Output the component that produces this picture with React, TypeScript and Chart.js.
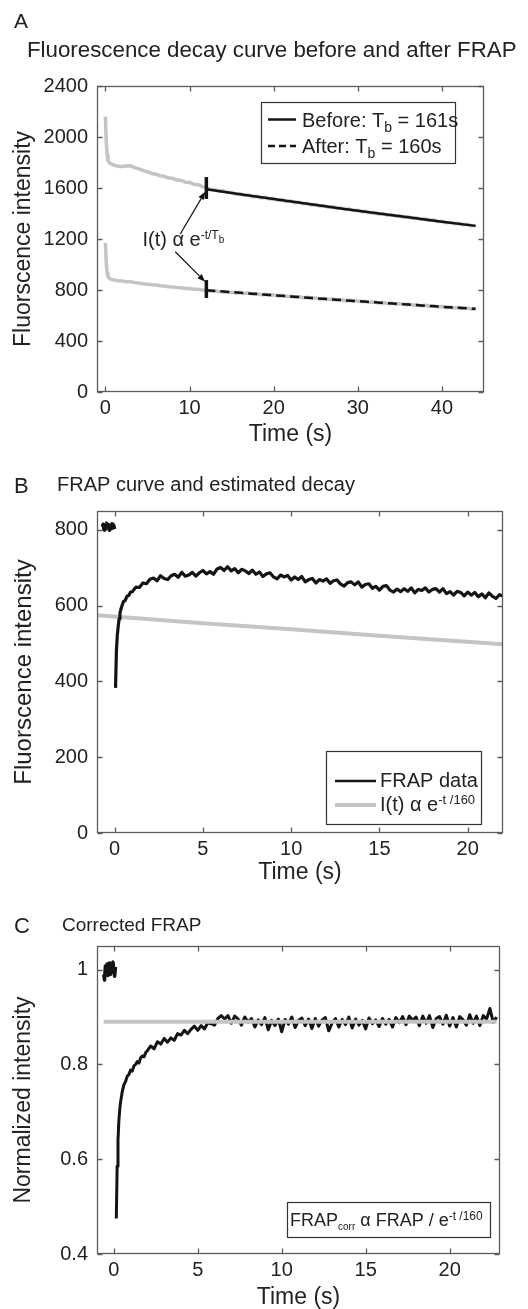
import React, { useEffect, useRef } from "react";
import { Chart, registerables } from "chart.js";
Chart.register(...registerables);

const FONT = '"Liberation Sans", Arial, Helvetica, sans-serif';
const TEXT = "#222222";
const FRAME = "#5c5c5c";
const GRAY = "#c4c4c4";
const BLACK = "#141414";

// ---------------- Panel A data ----------------
const A_X_TICKS = [0, 10, 20, 30, 40];
const A_X_LABELS = ["0", "10", "20", "30", "40"];
const A_Y_TICKS = [0, 400, 800, 1200, 1600, 2000, 2400];
const A_Y_LABELS = ["0", "400", "800", "1200", "1600", "2000", "2400"];
const A_HEAD_T = [0, 0.1, 0.2, 0.3, 0.5, 0.8];
const A_BEFORE_HEAD = [2160, 1960, 1860, 1815, 1795, 1786];
const A_AFTER_HEAD = [1170, 1010, 935, 905, 890, 882];
const A_TAIL_T0 = 1.0;
const A_TAIL_DT = 0.5;
const A_BEFORE_TAIL = [
  1780, 1770, 1768, 1773, 1774, 1760, 1750, 1736, 1728, 1714,
  1708, 1696, 1692, 1678, 1676, 1662, 1660, 1646, 1644, 1630,
  1626, 1612, 1602, 1588, 1588, 1576, 1578, 1566, 1565, 1552,
  1555, 1542, 1546, 1531, 1536, 1522, 1528, 1513, 1517, 1504,
  1508, 1494, 1499, 1485, 1490, 1476, 1480, 1466, 1471, 1458,
  1462, 1449, 1453, 1440, 1444, 1431, 1435, 1423, 1426, 1414,
  1417, 1405, 1408, 1396, 1400, 1387, 1391, 1379, 1382, 1370,
  1374, 1362, 1366, 1353, 1357, 1345, 1349, 1337, 1340, 1328,
  1332, 1320, 1324, 1312, 1316, 1304, 1305,
];
const A_AFTER_TAIL = [
  878, 873, 871, 865, 864, 858, 854, 849, 846, 841,
  839, 833, 831, 826, 824, 819, 818, 812, 811, 806,
  805, 800, 799, 793, 793, 787, 787, 781, 782, 776,
  781, 773, 777, 768, 771, 763, 767, 758, 762, 754,
  757, 749, 752, 744, 747, 739, 743, 735, 738, 730,
  733, 726, 729, 721, 724, 716, 720, 712, 715, 707,
  711, 703, 706, 698, 702, 694, 697, 689, 693, 685,
  689, 681, 684, 676, 680, 672, 676, 668, 671, 663,
  667, 659, 663, 655, 659, 651, 653,
];
const A_FIT_T = [12, 16, 20, 24, 28, 32, 36, 40, 44];
const A_FIT_BEFORE = [1590, 1551, 1513, 1476, 1440, 1404, 1370, 1336, 1303];
const A_FIT_AFTER = [798, 778, 759, 740, 721, 703, 686, 668, 652];
const A_MARK_T = 12;
const A_BAR_BEFORE = [1514, 1686];
const A_BAR_AFTER = [737, 878];

// ---------------- Panel B data ----------------
const B_X_TICKS = [0, 5, 10, 15, 20];
const B_X_LABELS = ["0", "5", "10", "15", "20"];
const B_Y_TICKS = [0, 200, 400, 600, 800];
const B_Y_LABELS = ["0", "200", "400", "600", "800"];
const B_PRE_T = [-0.7, -0.65, -0.6, -0.55, -0.5, -0.45, -0.4, -0.35, -0.3, -0.25, -0.2, -0.15, -0.1, -0.05, 0];
const B_PRE_V = [808, 815, 800, 812, 804, 818, 806, 814, 799, 811, 803, 816, 805, 812, 802];
const B_RISE_T = [0.05, 0.1, 0.15, 0.2, 0.25, 0.3, 0.35, 0.4, 0.5, 0.6, 0.7, 0.8, 0.9, 1.0, 1.2, 1.4, 1.6, 1.8, 2.0];
const B_RISE_V = [383, 480, 522, 545, 565, 580, 590, 598, 611, 614, 625, 627, 636, 637, 649, 648, 660, 658, 670];
const B_TAIL_T0 = 2.2;
const B_TAIL_DT = 0.2;
const B_TAIL_V = [
  673, 666, 679, 672, 669, 679, 683, 675, 688, 678,
  681, 688, 678, 687, 693, 684, 690, 683, 697, 701,
  693, 703, 692, 698, 687, 696, 692, 685, 694, 683,
  689, 677, 684, 687, 676, 671, 681, 676, 680, 668,
  676, 669, 677, 663, 669, 672, 660, 669, 665, 671,
  659, 666, 668, 657, 652, 661, 663, 655, 663, 649,
  656, 658, 646, 651, 641, 651, 653, 641, 636, 644,
  637, 645, 638, 647, 634, 643, 640, 647, 636, 643,
  645, 636, 645, 632, 637, 628, 638, 635, 626, 636,
  628, 635, 624, 631, 621, 634, 625, 619, 629, 626,
];
const B_DECAY_T = [-1, 5, 10, 15, 22];
const B_DECAY_V = [575, 554, 538, 521, 498];

// ---------------- Panel C data ----------------
const C_X_TICKS = [0, 5, 10, 15, 20];
const C_X_LABELS = ["0", "5", "10", "15", "20"];
const C_Y_TICKS = [0.4, 0.6, 0.8, 1];
const C_Y_LABELS = ["0.4", "0.6", "0.8", "1"];
const C_PRE_T = [-0.6, -0.55, -0.5, -0.45, -0.4, -0.35, -0.3, -0.25, -0.2, -0.15, -0.1, -0.05, 0, 0.05, 0.1];
const C_PRE_V = [0.99, 0.978, 1.008, 0.992, 1.012, 0.988, 1.004, 1.014, 0.99, 1.01, 0.995, 1.016, 1.0, 0.986, 1.006];
const C_RISE_T = [0.15, 0.2, 0.25, 0.3, 0.35, 0.4, 0.5, 0.6, 0.7, 0.8, 0.9, 1.0, 1.1, 1.2, 1.3, 1.4, 1.5, 1.6, 1.7, 1.8, 1.9, 2.0];
const C_RISE_V = [0.475, 0.585, 0.64, 0.68, 0.703, 0.72, 0.742, 0.757, 0.764, 0.775, 0.779, 0.788, 0.786, 0.797, 0.8, 0.806, 0.803, 0.814, 0.818, 0.816, 0.825, 0.829];
const C_TAIL_T0 = 2.2;
const C_TAIL_DT = 0.2;
const C_TAIL_V = [
  0.839, 0.833, 0.848, 0.843, 0.855, 0.847, 0.856, 0.851, 0.865, 0.862,
  0.872, 0.865, 0.874, 0.881, 0.872, 0.882, 0.875, 0.888, 0.886, 0.883,
  0.897, 0.903, 0.896, 0.903, 0.887, 0.902, 0.896, 0.883, 0.9, 0.889,
  0.897, 0.879, 0.894, 0.884, 0.899, 0.873, 0.893, 0.882, 0.896, 0.869,
  0.895, 0.885, 0.9, 0.878, 0.893, 0.898, 0.882, 0.896, 0.876, 0.897,
  0.881, 0.894, 0.899, 0.871, 0.887, 0.897, 0.879, 0.895, 0.884, 0.9,
  0.877, 0.896, 0.883, 0.893, 0.875, 0.898, 0.886, 0.894, 0.88, 0.897,
  0.885, 0.895, 0.879, 0.899, 0.888, 0.901, 0.884, 0.902, 0.893, 0.9,
  0.882, 0.902, 0.887, 0.903, 0.878, 0.897, 0.901, 0.885, 0.904, 0.881,
  0.899, 0.879, 0.901, 0.894, 0.883, 0.905, 0.887, 0.902, 0.882, 0.903,
  0.896, 0.918, 0.889, 0.9,
];
const C_LEVEL_T = [-0.6, 22.8];
const C_LEVEL_V = [0.89, 0.89];

// ---------------- helpers ----------------
const pts = (ts: number[], vs: number[]) => ts.map((t, i) => ({ x: t, y: vs[i] }));
const reg = (t0: number, dt: number, vs: number[]) =>
  vs.map((v, i) => ({ x: Math.round((t0 + i * dt) * 1000) / 1000, y: v }));

type Seg = { t: string; s: number; dy?: number };
function rich(ctx: CanvasRenderingContext2D, x: number, y: number, segs: Seg[]) {
  let cx = x;
  ctx.textAlign = "left";
  ctx.textBaseline = "alphabetic";
  ctx.fillStyle = TEXT;
  for (const g of segs) {
    ctx.font = `${g.s}px ${FONT}`;
    ctx.fillText(g.t, cx, y + (g.dy || 0));
    cx += ctx.measureText(g.t).width;
  }
}
function hline(ctx: CanvasRenderingContext2D, x1: number, x2: number, y: number, color: string, w: number, dash: number[] = []) {
  ctx.save();
  ctx.strokeStyle = color;
  ctx.lineWidth = w;
  ctx.setLineDash(dash);
  ctx.beginPath();
  ctx.moveTo(x1, y);
  ctx.lineTo(x2, y);
  ctx.stroke();
  ctx.restore();
}
function box(ctx: CanvasRenderingContext2D, x: number, y: number, w: number, h: number) {
  ctx.save();
  ctx.fillStyle = "#ffffff";
  ctx.fillRect(x, y, w, h);
  ctx.strokeStyle = "#333333";
  ctx.lineWidth = 1.2;
  ctx.strokeRect(x + 0.5, y + 0.5, w, h);
  ctx.restore();
}
function frame(chart: any, xt: number[], yt: number[]) {
  const { ctx, chartArea: a, scales } = chart;
  const L = Math.round(a.left) + 0.5, R = Math.round(a.right) - 0.5;
  const T = Math.round(a.top) + 0.5, B = Math.round(a.bottom) - 0.5;
  ctx.save();
  ctx.strokeStyle = FRAME;
  ctx.lineWidth = 1.3;
  ctx.strokeRect(L, T, R - L, B - T);
  ctx.beginPath();
  const tl = 5;
  for (const v of xt) {
    const p = Math.round(scales.x.getPixelForValue(v)) + 0.5;
    ctx.moveTo(p, B); ctx.lineTo(p, B - tl);
    ctx.moveTo(p, T); ctx.lineTo(p, T + tl);
  }
  for (const v of yt) {
    const p = Math.round(scales.y.getPixelForValue(v)) + 0.5;
    ctx.moveTo(L, p); ctx.lineTo(L + tl, p);
    ctx.moveTo(R, p); ctx.lineTo(R - tl, p);
  }
  ctx.stroke();
  ctx.restore();
}
function arrow(chart: any, from: number[], to: number[]) {
  const { ctx, scales } = chart;
  const x1 = scales.x.getPixelForValue(from[0]), y1 = scales.y.getPixelForValue(from[1]);
  const x2 = scales.x.getPixelForValue(to[0]), y2 = scales.y.getPixelForValue(to[1]);
  const ang = Math.atan2(y2 - y1, x2 - x1);
  const hl = 8, hw = 3;
  ctx.save();
  ctx.strokeStyle = "#111";
  ctx.fillStyle = "#111";
  ctx.lineWidth = 1.2;
  ctx.beginPath();
  ctx.moveTo(x1, y1);
  ctx.lineTo(x2 - hl * Math.cos(ang), y2 - hl * Math.sin(ang));
  ctx.stroke();
  ctx.beginPath();
  ctx.moveTo(x2, y2);
  ctx.lineTo(x2 - hl * Math.cos(ang) + hw * Math.sin(ang), y2 - hl * Math.sin(ang) - hw * Math.cos(ang));
  ctx.lineTo(x2 - hl * Math.cos(ang) - hw * Math.sin(ang), y2 - hl * Math.sin(ang) + hw * Math.cos(ang));
  ctx.closePath();
  ctx.fill();
  ctx.restore();
}

function xScale(min: number, max: number, ticks: number[], labels: string[], h: number) {
  return {
    type: "linear",
    min,
    max,
    afterBuildTicks: (s: any) => { s.ticks = ticks.map((v) => ({ value: v })); },
    afterFit: (s: any) => { s.height = h; },
    grid: { display: false, drawTicks: false },
    border: { display: false },
    ticks: {
      font: { family: FONT, size: 20 },
      color: TEXT,
      padding: 4,
      maxRotation: 0,
      autoSkip: false,
      callback: (v: any) => labels[ticks.indexOf(v)] ?? "",
    },
    title: { display: true, text: "Time (s)", color: TEXT, font: { family: FONT, size: 23, lineHeight: 1 }, padding: { top: 0, bottom: 0 } },
  };
}
function yScale(min: number, max: number, ticks: number[], labels: string[], title: string, tsize: number) {
  return {
    type: "linear",
    min,
    max,
    afterBuildTicks: (s: any) => { s.ticks = ticks.map((v) => ({ value: v })); },
    afterFit: (s: any) => { s.width = 97; },
    grid: { display: false, drawTicks: false },
    border: { display: false },
    ticks: {
      font: { family: FONT, size: 20 },
      color: TEXT,
      padding: 9,
      autoSkip: false,
      callback: (v: any) => labels[ticks.indexOf(v)] ?? "",
    },
    title: { display: true, text: title, color: TEXT, font: { family: FONT, size: tsize, lineHeight: 1 }, padding: { top: 24 - tsize / 2, bottom: 0 } },
  };
}
const line = (data: any[], color: string, w: number, dash: number[] = []) => ({
  data,
  borderColor: color,
  borderWidth: w,
  borderDash: dash,
  pointRadius: 0,
  fill: false,
  tension: 0,
  borderJoinStyle: "round",
});
const baseOptions = (padding: any, x: any, y: any) => ({
  responsive: false,
  animation: false,
  devicePixelRatio: 1,
  events: [],
  layout: { padding },
  plugins: { legend: { display: false }, tooltip: { enabled: false }, title: { display: false } },
  scales: { x, y },
});

// ---------------- configs ----------------
function configA(): any {
  const before = [...pts(A_HEAD_T, A_BEFORE_HEAD), ...reg(A_TAIL_T0, A_TAIL_DT, A_BEFORE_TAIL)];
  const after = [...pts(A_HEAD_T, A_AFTER_HEAD), ...reg(A_TAIL_T0, A_TAIL_DT, A_AFTER_TAIL)];
  return {
    type: "line",
    data: {
      datasets: [
        line(pts(A_FIT_T, A_FIT_BEFORE), BLACK, 2.5),
        line(pts(A_FIT_T, A_FIT_AFTER), BLACK, 2.5, [9, 5]),
        line(pts([A_MARK_T, A_MARK_T], A_BAR_BEFORE), BLACK, 3.5),
        line(pts([A_MARK_T, A_MARK_T], A_BAR_AFTER), BLACK, 3.5),
        line(before, GRAY, 3.5),
        line(after, GRAY, 3.5),
      ],
    },
    options: baseOptions(
      { left: 0, right: 44, top: 86, bottom: 3.5 },
      xScale(-1, 45, A_X_TICKS, A_X_LABELS, 54.5),
      yScale(0, 2400, A_Y_TICKS, A_Y_LABELS, "Fluorscence intensity", 23)
    ),
    plugins: [
      {
        id: "decoA",
        afterDraw(chart: any) {
          const ctx = chart.ctx;
          frame(chart, A_X_TICKS, A_Y_TICKS);
          rich(ctx, 14, 28, [{ t: "A", s: 21 }]);
          rich(ctx, 27, 57, [{ t: "Fluorescence decay curve before and after FRAP", s: 22.3 }]);
          box(ctx, 261, 102, 194, 61);
          hline(ctx, 268, 296, 119.5, BLACK, 2.5);
          rich(ctx, 302, 127, [{ t: "Before: T", s: 20 }, { t: "b", s: 14, dy: 4.5 }, { t: " = 161s", s: 20 }]);
          hline(ctx, 268, 296, 146, BLACK, 2.5, [7, 4]);
          rich(ctx, 302, 153, [{ t: "After: T", s: 20 }, { t: "b", s: 14, dy: 4.5 }, { t: " = 160s", s: 20 }]);
          const sx = chart.scales.x.getPixelForValue(4.4);
          const sy = chart.scales.y.getPixelForValue(1145);
          rich(ctx, sx, sy, [{ t: "I(t) α e", s: 20 }, { t: "-t/T", s: 12, dy: -7 }, { t: "b", s: 10, dy: -3 }]);
          arrow(chart, [8.9, 1239], [11.86, 1571]);
          arrow(chart, [8.3, 1100], [11.86, 865]);
        },
      },
    ],
  };
}

function configB(): any {
  return {
    type: "line",
    data: {
      datasets: [
        line(pts(B_PRE_T, B_PRE_V), BLACK, 3.5),
        line([...pts(B_RISE_T, B_RISE_V), ...reg(B_TAIL_T0, B_TAIL_DT, B_TAIL_V)], BLACK, 3.2),
        line(pts(B_DECAY_T, B_DECAY_V), GRAY, 4),
      ],
    },
    options: baseOptions(
      { left: 0, right: 25, top: 61, bottom: 5.5 },
      xScale(-1, 22, B_X_TICKS, B_X_LABELS, 51.5),
      yScale(0, 850, B_Y_TICKS, B_Y_LABELS, "Fluorscence intensity", 24)
    ),
    plugins: [
      {
        id: "decoB",
        afterDraw(chart: any) {
          const ctx = chart.ctx;
          frame(chart, B_X_TICKS, B_Y_TICKS);
          rich(ctx, 14, 43, [{ t: "B", s: 22 }]);
          rich(ctx, 57, 41, [{ t: "FRAP curve and estimated decay", s: 20 }]);
          box(ctx, 326, 301, 155, 73);
          hline(ctx, 335, 376, 331, BLACK, 2.5);
          rich(ctx, 380, 337, [{ t: "FRAP data", s: 20 }]);
          hline(ctx, 335, 376, 355, GRAY, 4);
          rich(ctx, 380, 361, [{ t: "I(t) α e", s: 20 }, { t: "-t /160", s: 13, dy: -7 }]);
        },
      },
    ],
  };
}

function configC(): any {
  return {
    type: "line",
    data: {
      datasets: [
        line(pts(C_LEVEL_T, C_LEVEL_V), GRAY, 4),
        line(pts(C_PRE_T, C_PRE_V), BLACK, 3.5),
        line([...pts(C_RISE_T, C_RISE_V), ...reg(C_TAIL_T0, C_TAIL_DT, C_TAIL_V)], BLACK, 3),
      ],
    },
    options: baseOptions(
      { left: 0, right: 28, top: 56, bottom: 0 },
      xScale(-1, 23, C_X_TICKS, C_X_LABELS, 55),
      yScale(0.4, 1.05, C_Y_TICKS, C_Y_LABELS, "Normalized intensity", 23)
    ),
    plugins: [
      {
        id: "decoC",
        afterDraw(chart: any) {
          const ctx = chart.ctx;
          frame(chart, C_X_TICKS, C_Y_TICKS);
          rich(ctx, 14, 43, [{ t: "C", s: 22 }]);
          rich(ctx, 62, 41, [{ t: "Corrected FRAP", s: 19 }]);
          box(ctx, 287, 312, 203, 35);
          rich(ctx, 290, 336, [
            { t: "FRAP", s: 18 },
            { t: "corr", s: 10, dy: 4 },
            { t: " α FRAP / e", s: 18 },
            { t: "-t /160", s: 12, dy: -6 },
          ]);
        },
      },
    ],
  };
}

function Panel({ top, height, build }: { top: number; height: number; build: () => any }) {
  const ref = useRef<HTMLCanvasElement>(null);
  useEffect(() => {
    const chart = new Chart(ref.current as HTMLCanvasElement, build());
    return () => chart.destroy();
  }, []);
  return (
    <canvas
      ref={ref}
      width={528}
      height={height}
      style={{ position: "absolute", left: 0, top, width: 528, height, display: "block" }}
    />
  );
}

export default function App() {
  return (
    <div style={{ position: "absolute", left: 0, top: 0, width: 528, height: 1309, background: "#ffffff", overflow: "hidden" }}>
      <Panel top={0} height={450} build={configA} />
      <Panel top={450} height={440} build={configB} />
      <Panel top={890} height={419} build={configC} />
    </div>
  );
}
